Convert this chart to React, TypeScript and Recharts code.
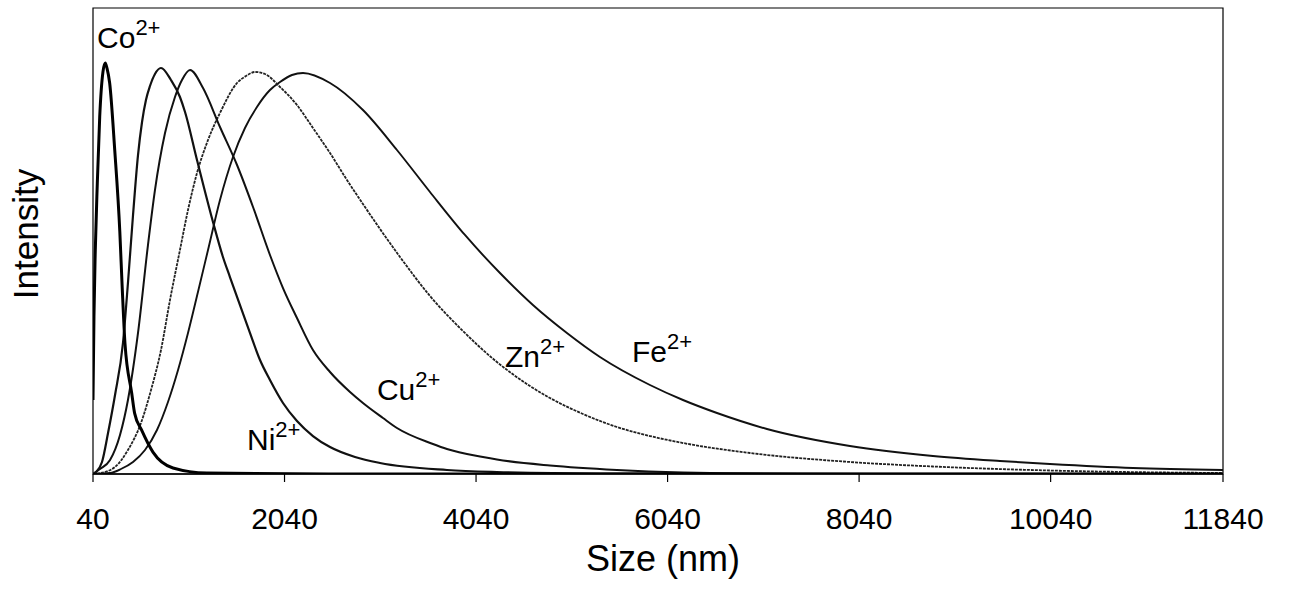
import React from 'react';
import { LineChart, Line, XAxis, YAxis, ReferenceArea, ReferenceDot } from 'recharts';

// Size (nm) / Intensity readings for each ion
const coX = [40, 50, 64, 85, 110, 144, 168, 186, 214, 267, 320, 345, 374, 444, 475, 548, 666, 875, 1230, 2500, 11840];
const coY = [15.9, 33.7, 48.1, 62.4, 76.6, 86.3, 88.2, 87.1, 83.9, 69.5, 52, 40, 28, 17.4, 13, 9.4, 4.7, 1.3, 0.2, 0, 0];

const niX = [40, 71, 134, 197, 270, 353, 405, 458, 510, 552, 593, 635, 687, 750, 854, 948, 1001, 1126, 1293, 1397, 1470, 1679, 1784, 1888, 2024, 2170, 2337, 2515, 2776, 3037, 3736, 4258, 5334, 11840];
const niY = [0, 0.43, 2.58, 8.8, 16.95, 28.11, 40.99, 55.58, 68.45, 75.54, 80.26, 83.26, 85.84, 87.12, 84.55, 80.9, 77.68, 67.38, 54.08, 46.57, 42.27, 30.26, 24.46, 20.17, 15.24, 11.37, 8.15, 5.79, 3.65, 2.36, 0.86, 0.43, 0.11, 0];

const cuX = [40, 113, 218, 322, 405, 510, 614, 687, 792, 896, 969, 1053, 1189, 1366, 1544, 1711, 1888, 2024, 2170, 2337, 2515, 2724, 2859, 3068, 3214, 3590, 3736, 4112, 4258, 4812, 5511, 6201, 7422, 11840];
const cuY = [0, 1.07, 3.0, 8.37, 15.88, 30.26, 49.14, 60.94, 73.18, 80.9, 84.55, 86.7, 82.83, 74.46, 66.31, 57.3, 47.0, 39.91, 33.48, 26.61, 21.89, 17.6, 15.24, 12.02, 9.87, 6.44, 5.36, 3.65, 3.11, 1.82, 0.86, 0.32, 0, 0];

const znX = [40, 197, 270, 405, 541, 646, 750, 844, 948, 1032, 1126, 1241, 1366, 1544, 1638, 1732, 1836, 1993, 2170, 2337, 2515, 2692, 2859, 3037, 3246, 3559, 3903, 4258, 4603, 4812, 5156, 5511, 5856, 6201, 6900, 7944, 8811, 10033, 11840];
const znY = [0, 0.64, 1.5, 5.15, 10.94, 18.03, 26.61, 37.34, 48.07, 56.65, 64.59, 71.67, 77.47, 83.91, 85.41, 86.27, 85.84, 83.05, 79.18, 74.25, 68.88, 63.09, 57.94, 52.58, 46.57, 38.2, 30.69, 24.03, 18.88, 16.31, 12.88, 10.09, 8.15, 6.65, 4.51, 2.58, 1.61, 0.75, 0.21];

const feX = [40, 218, 332, 458, 583, 708, 823, 928, 1032, 1136, 1241, 1366, 1502, 1627, 1752, 1888, 1993, 2118, 2233, 2515, 2859, 3214, 3559, 3924, 4290, 4634, 4989, 5334, 5856, 6201, 6556, 7078, 7944, 8811, 9511, 10033, 10899, 11840];
const feY = [0, 0.21, 1.07, 2.58, 5.15, 9.44, 15.45, 22.32, 30.26, 39.06, 48.07, 58.8, 68.03, 74.25, 78.76, 82.4, 84.12, 85.62, 86.05, 83.91, 78.11, 69.53, 60.52, 51.29, 43.13, 36.27, 30.26, 25.11, 19.1, 15.88, 13.09, 9.66, 6.01, 3.86, 2.79, 2.15, 1.29, 0.86];

const xTicks = [40, 2040, 4040, 6040, 8040, 10040, 11840];

const labelText = ['Co', 'Ni', 'Cu', 'Zn', 'Fe'];
const labelSup = ['2+', '2+', '2+', '2+', '2+'];
const labelX = [82, 1648, 3005, 4342, 5668];
const labelY = [91.4, 5.15, 15.9, 23.0, 24.0];

const toPts = (xs: number[], ys: number[]) => xs.map((x, i) => ({ x, v: ys[i] }));

const coData = toPts(coX, coY);
const niData = toPts(niX, niY);
const cuData = toPts(cuX, cuY);
const znData = toPts(znX, znY);
const feData = toPts(feX, feY);

const FONT = '"Liberation Sans", Arial, Helvetica, sans-serif';

const IntensityLabel = (props: any) => {
  const vb = props.viewBox || { x: 0, y: 8, width: 93, height: 466 };
  const cx = vb.x + 38;
  const cy = vb.y + vb.height / 2 - 7;
  return (
    <text transform={`translate(${cx},${cy}) rotate(-90)`} textAnchor="middle" fontFamily={FONT} fontSize={35} fill="#000">
      Intensity
    </text>
  );
};

const SizeLabel = (props: any) => {
  const vb = props.viewBox || { x: 93, y: 474, width: 1130, height: 60 };
  const cx = vb.x + vb.width / 2 + 5;
  const cy = vb.y + 97;
  return (
    <text x={cx} y={cy} textAnchor="middle" fontFamily={FONT} fontSize={36} fill="#000">
      Size (nm)
    </text>
  );
};

const makeLabelShape = (main: string, sup: string) => (p: any) => (
  <text x={p.cx} y={p.cy} fontFamily={FONT} fontSize={30} fill="#000">
    <tspan>{main}</tspan>
    <tspan dy={-13} fontSize={22}>{sup}</tspan>
  </text>
);

export default function App() {
  return (
    <div style={{ position: 'absolute', left: 0, top: 0, width: 1290, height: 592, background: '#fff' }}>
      <LineChart width={1290} height={592} margin={{ top: 8, right: 67, bottom: 58, left: 0 }}>
        <XAxis
          dataKey="x"
          type="number"
          domain={[40, 11840]}
          ticks={xTicks}
          allowDataOverflow
          height={60}
          tickSize={8}
          tickMargin={26}
          stroke="#000"
          axisLine={{ stroke: '#000', strokeWidth: 1.5 }}
          tickLine={{ stroke: '#000', strokeWidth: 1.2 }}
          tick={{ fontSize: 30, fill: '#000', fontFamily: FONT }}
          interval={0}
          label={<SizeLabel />}
        />
        <YAxis
          type="number"
          domain={[0, 100]}
          allowDataOverflow
          width={93}
          tick={false}
          tickLine={false}
          axisLine={false}
          label={<IntensityLabel />}
        />
        <Line data={feData} dataKey="v" type="monotone" stroke="#111" strokeWidth={1.9} dot={false} isAnimationActive={false} />
        <Line data={znData} dataKey="v" type="monotone" stroke="#222" strokeWidth={1.8} strokeDasharray="3 1" dot={false} isAnimationActive={false} />
        <Line data={cuData} dataKey="v" type="monotone" stroke="#111" strokeWidth={2} dot={false} isAnimationActive={false} />
        <Line data={niData} dataKey="v" type="monotone" stroke="#111" strokeWidth={2.2} dot={false} isAnimationActive={false} />
        <Line data={coData} dataKey="v" type="monotone" stroke="#000" strokeWidth={3} dot={false} isAnimationActive={false} />
        <ReferenceArea x1={40} x2={11840} y1={0} y2={100} fill="none" fillOpacity={0} stroke="#000" strokeWidth={1.2} ifOverflow="visible" />
        {labelText.map((t, i) => (
          <ReferenceDot key={t} x={labelX[i]} y={labelY[i]} r={0} ifOverflow="visible" shape={makeLabelShape(t, labelSup[i])} />
        ))}
      </LineChart>
    </div>
  );
}
